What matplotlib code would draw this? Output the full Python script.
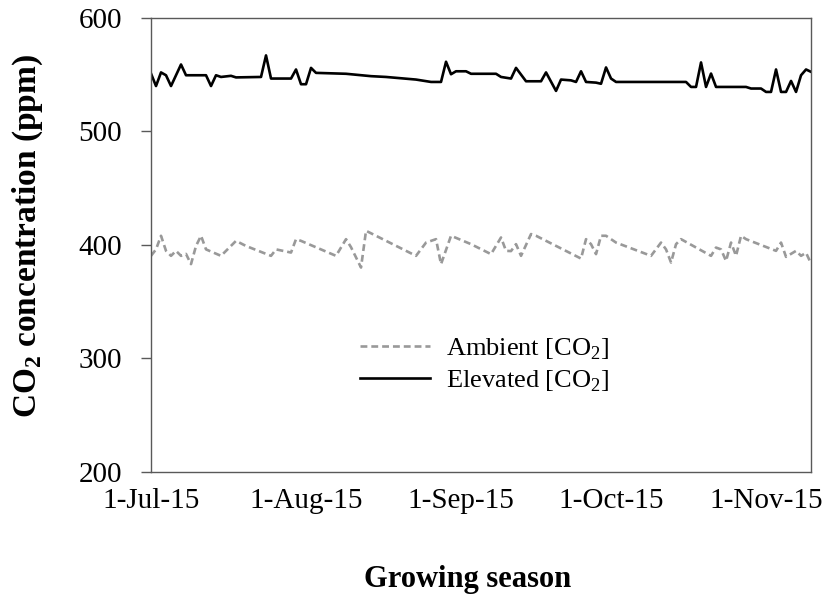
import pandas as pd
import matplotlib
matplotlib.use("Agg")
import matplotlib.pyplot as plt
import matplotlib.dates as mdates

plt.rcParams['font.family'] = 'Liberation Serif'
plt.rcParams['mathtext.fontset'] = 'custom'
plt.rcParams['mathtext.rm'] = 'Liberation Serif'
plt.rcParams['mathtext.bf'] = 'Liberation Serif:bold'

# === Data (days after 1-Jul-2015, CO2 in ppm) ===
start_date = pd.Timestamp("2015-07-01")
end_date = pd.Timestamp("2015-11-10")

elev_days = [0, 1, 2, 3, 4, 6, 7, 11, 12, 13, 14, 16, 17, 22, 23, 24, 28, 29, 30, 31,
             32, 33, 39, 44, 47, 53, 56, 58, 59, 60, 61, 63, 64, 69, 70, 72, 73, 75, 78,
             79, 81, 82, 84, 85, 86, 87, 89, 90, 91, 92, 93, 107, 108, 109, 110, 111,
             112, 113, 119, 120, 122, 123, 124, 125, 126, 127, 128, 129, 130, 131, 132]
elev_vals = [551, 540, 552, 549.5, 540, 559, 549.5, 549.5, 540, 549.5, 548, 549, 547.6,
             548, 567, 546.6, 546.6, 554.6, 541.6, 541.6, 556, 551.6, 550.8, 548.7, 548,
             545.7, 543.6, 543.6, 561.4, 550.4, 553, 553, 550.8, 550.8, 548, 546.6, 556,
             544.2, 544.2, 552, 535.7, 545.7, 545, 543.6, 553, 543.6, 543, 542, 556.4,
             546.6, 543.6, 543.6, 539.2, 539.2, 560.8, 539.2, 551, 539.2, 539.2, 537.8,
             537.8, 534.8, 534.8, 554.6, 534.8, 534.8, 544.5, 534.8, 549.5, 554.6, 552.5]

amb_days = [0, 1, 2, 3, 4, 5, 6, 7, 8, 9, 10, 11, 14, 15, 17, 19, 24, 25, 28, 29, 30,
            37, 39, 40, 42, 43, 53, 55, 57, 58, 60, 64, 68, 70, 71, 72, 73, 74, 76, 77,
            86, 87, 88, 89, 90, 91, 93, 100, 102, 103, 104, 105, 106, 112, 113, 114, 115,
            116, 117, 118, 119, 125, 126, 127, 129, 130, 131, 132]
amb_vals = [390.3, 396, 408, 394.7, 390.3, 394.7, 390.3, 392, 383, 399, 408, 396, 390.3,
            394.7, 403.5, 399, 390.3, 396, 393.2, 405, 403.5, 390.3, 405, 397.9, 380,
            412.4, 390.3, 402, 405, 383, 408, 400.6, 391.8, 406.5, 394.7, 394.5, 400.6,
            390.3, 409.5, 408, 387.9, 405, 400.6, 391.8, 408, 408, 402, 390.3, 402, 396,
            384.4, 400.6, 405, 390.3, 397.6, 396, 385.8, 402, 390.3, 408, 405, 394.7, 402,
            389.4, 394.7, 390.3, 393, 383.5]

y_ticks = [200, 300, 400, 500, 600]

elev_dates = start_date + pd.to_timedelta(elev_days, unit="D")
amb_dates = start_date + pd.to_timedelta(amb_days, unit="D")

# === Plotting ===
fig = plt.figure(figsize=(8.32, 5.99), dpi=100)
ax = fig.add_axes([0.1815, 0.2125, 0.7933, 0.7575])

ax.plot(amb_dates, amb_vals, color='#999999', linewidth=1.9,
        dashes=(2.6, 1.5), label='Ambient [CO$_2$]')
ax.plot(elev_dates, elev_vals, color='black', linewidth=1.9,
        label='Elevated [CO$_2$]')

ax.set_xlim(start_date, end_date)
ax.set_ylim(200, 600)
ax.set_yticks(y_ticks)

ax.xaxis.set_major_locator(mdates.MonthLocator())
ax.xaxis.set_major_formatter(mdates.DateFormatter('1-%b-%y'))

for sp in ax.spines.values():
    sp.set_color('#595959')
    sp.set_linewidth(1.0)

ax.tick_params(axis='y', direction='out', length=7, width=1.0, color='#595959',
               labelsize=21, pad=14)
ax.tick_params(axis='x', length=0, labelsize=21, pad=12)

ax.set_xlabel('Growing season', fontsize=22, fontweight='bold')
ax.set_ylabel(r'CO$_\mathbf{2}$ concentration (ppm)', fontsize=24, fontweight='bold')
ax.xaxis.set_label_coords(0.479, -0.205)
ax.yaxis.set_label_coords(-0.161, 0.52)

ax.legend(loc='center left', bbox_to_anchor=(0.317, 0.235), frameon=False,
          fontsize=19, handlelength=2.65, handletextpad=0.6, labelspacing=0.25,
          borderpad=0, borderaxespad=0)

fig.savefig('out.png', dpi=100)
